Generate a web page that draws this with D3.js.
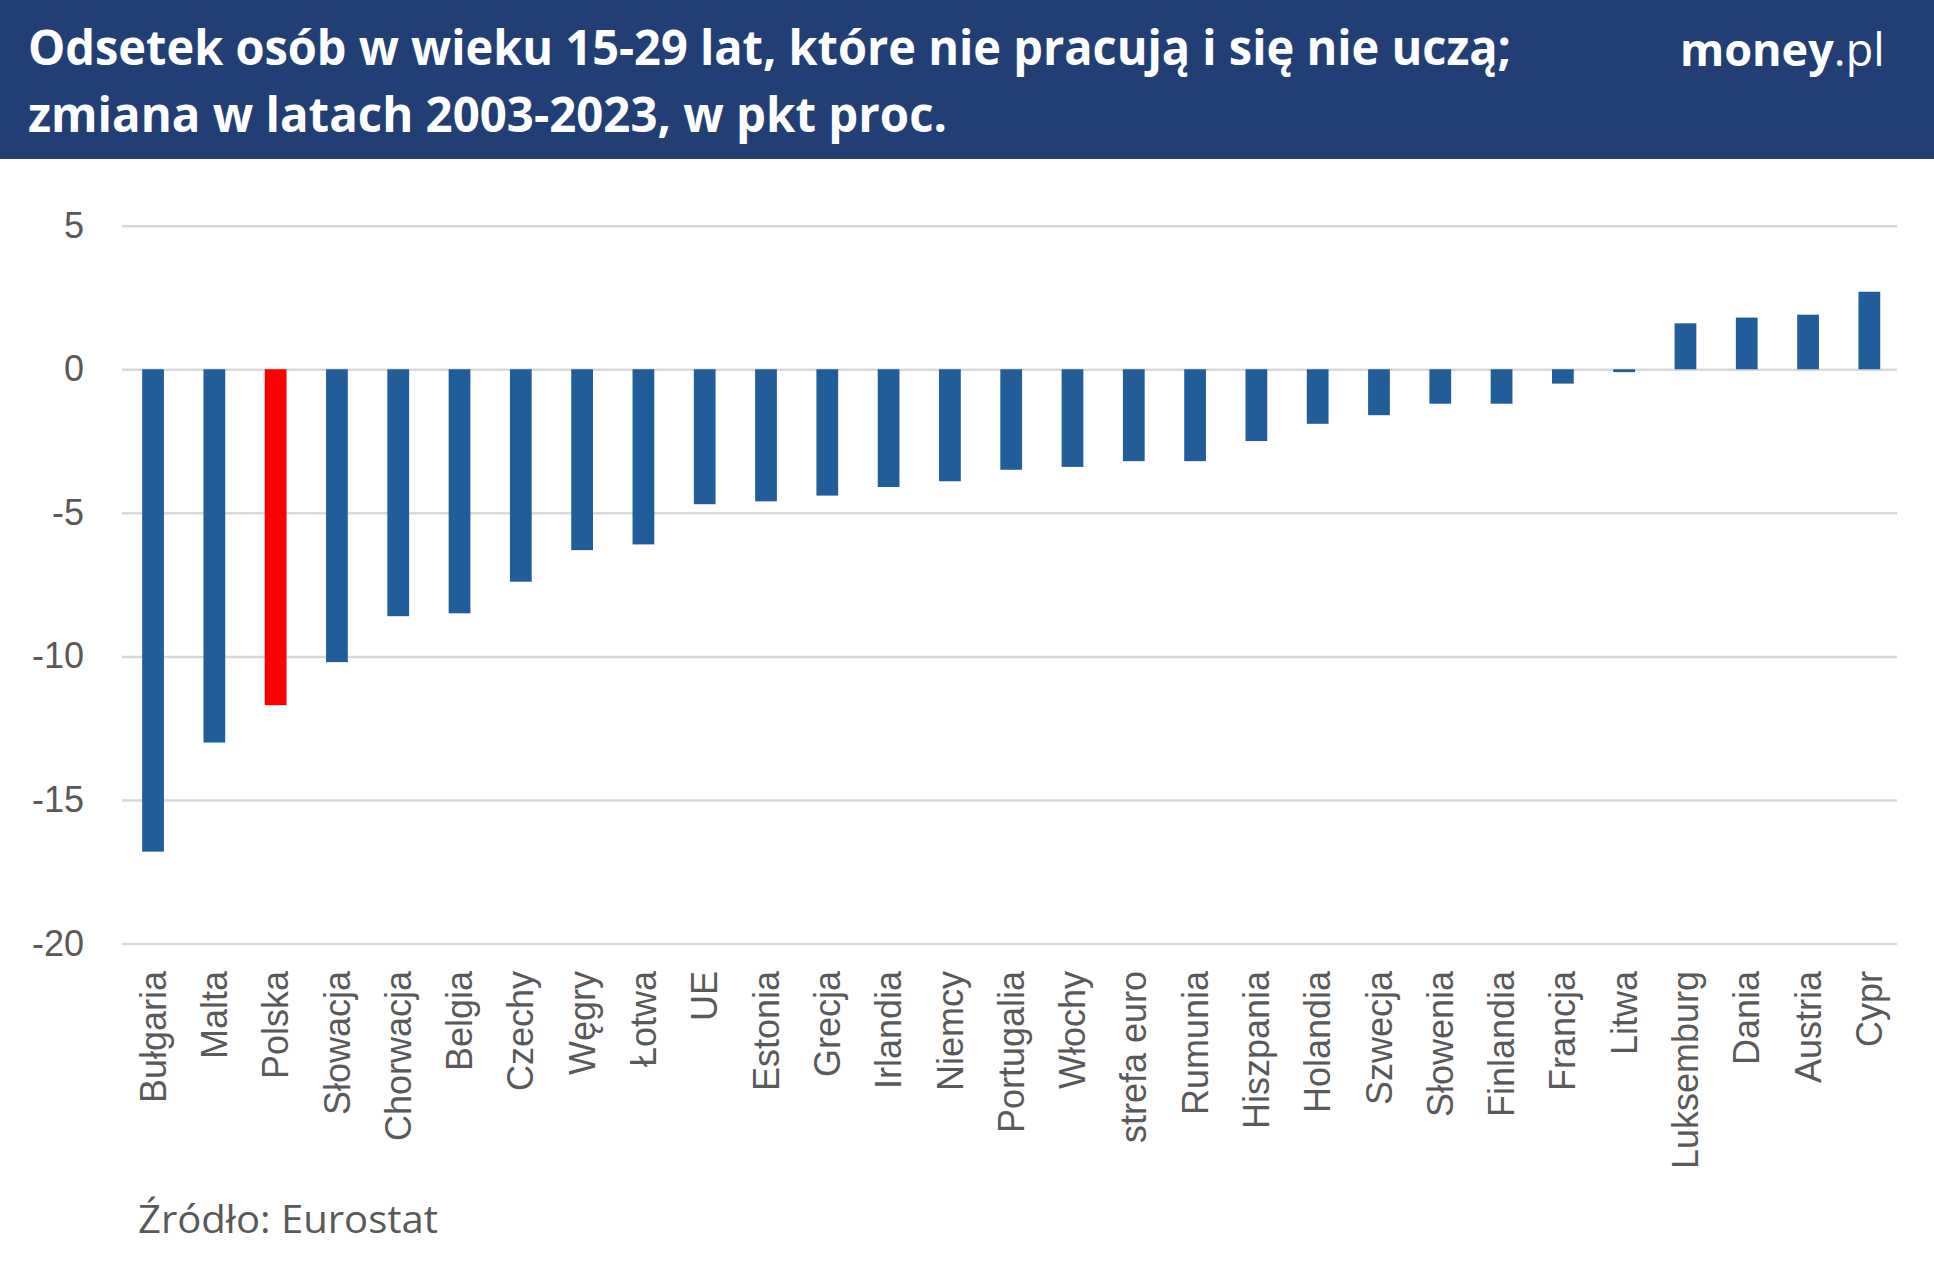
<!DOCTYPE html>
<html>
<head>
<meta charset="utf-8">
<script src="https://cdn.jsdelivr.net/npm/d3@7"></script>
<style>
  body { margin: 0; background: #fff; }
  svg { display: block; }
</style>
</head>
<body>
<svg id="chart" width="1934" height="1270"></svg>
<script>
const countries = ['Bułgaria', 'Malta', 'Polska', 'Słowacja', 'Chorwacja', 'Belgia', 'Czechy', 'Węgry', 'Łotwa', 'UE',
  'Estonia', 'Grecja', 'Irlandia', 'Niemcy', 'Portugalia', 'Włochy', 'strefa euro', 'Rumunia', 'Hiszpania', 'Holandia',
  'Szwecja', 'Słowenia', 'Finlandia', 'Francja', 'Litwa', 'Luksemburg', 'Dania', 'Austria', 'Cypr'];
const change = [-16.8, -13.0, -11.7, -10.2, -8.6, -8.5, -7.4, -6.3, -6.1, -4.7,
  -4.6, -4.4, -4.1, -3.9, -3.5, -3.4, -3.2, -3.2, -2.5, -1.9,
  -1.6, -1.2, -1.2, -0.5, -0.1, 1.6, 1.8, 1.9, 2.7];
const highlight = ['Polska'];
const yTicks = [5, 0, -5, -10, -15, -20];

const titleLines = ['Odsetek osób w wieku 15-29 lat, które nie pracują i się nie uczą;',
  'zmiana w latach 2003-2023, w pkt proc.'];
const source = 'Źródło: Eurostat';

const data = countries.map((c, i) => ({ key: c, value: change[i] }));

const svg = d3.select('#chart');

// header band
svg.append('rect')
  .attr('x', 0).attr('y', 0)
  .attr('width', 1934).attr('height', 159)
  .attr('fill', '#213f74');

svg.append('text')
  .attr('x', 28).attr('y', 65)
  .attr('font-family', 'Open Sans')
  .attr('font-weight', 700)
  .attr('font-size', '48px')
  .attr('fill', '#fff')
  .attr('textLength', 1483)
  .attr('lengthAdjust', 'spacingAndGlyphs')
  .text(titleLines[0]);

svg.append('text')
  .attr('x', 28).attr('y', 132)
  .attr('font-family', 'Open Sans')
  .attr('font-weight', 700)
  .attr('font-size', '48px')
  .attr('fill', '#fff')
  .attr('textLength', 919)
  .attr('lengthAdjust', 'spacingAndGlyphs')
  .text(titleLines[1]);

// logo, two pieces
const logoMain = svg.append('text')
  .attr('x', 1680).attr('y', 66)
  .attr('font-family', 'Open Sans')
  .attr('font-weight', 700)
  .attr('font-size', '45px')
  .attr('fill', '#fff')
  .text('money');
const mw = logoMain.node().getComputedTextLength();
svg.append('text')
  .attr('x', 1680 + mw).attr('y', 66)
  .attr('font-family', 'Open Sans')
  .attr('font-weight', 400)
  .attr('font-size', '45px')
  .attr('fill', '#fff')
  .text('.pl');

// scales
const x = d3.scaleBand()
  .domain(countries)
  .range([122.4, 1900])
  .paddingInner(0.645)
  .paddingOuter(0.3225);

const y = d3.scaleLinear().domain([-20, 5]).range([943.5, 225.7]);

// y gridlines + labels
const g = svg.append('g');
g.append('g')
  .attr('transform', 'translate(122,0)')
  .call(d3.axisLeft(y).tickValues(yTicks).tickSize(-1775).tickPadding(38).tickFormat((d) => String(d)))
  .call((a) => a.select('.domain').remove())
  .call((a) => a.selectAll('line').attr('stroke', '#d9d9d9').attr('stroke-width', 2.5))
  .call((a) => a.selectAll('text')
    .attr('font-family', 'Liberation Sans, Arial')
    .attr('font-size', '36px')
    .attr('fill', '#595959'));

// bars
g.selectAll('.bar')
  .data(data)
  .enter()
  .append('rect')
  .attr('class', 'bar')
  .attr('x', (d) => x(d.key))
  .attr('width', x.bandwidth())
  .attr('y', (d) => y(Math.max(0, d.value)))
  .attr('height', (d) => Math.abs(y(d.value) - y(0)))
  .attr('fill', (d) => (highlight.includes(d.key) ? '#ff0000' : '#215e99'));

// category labels
g.selectAll('.cat')
  .data(countries)
  .enter()
  .append('text')
  .attr('class', 'cat')
  .attr('transform', (d) => 'translate(' + (x(d) + x.bandwidth() / 2) + ',971) rotate(-90)')
  .attr('dy', '0.35em')
  .attr('text-anchor', 'end')
  .attr('font-family', 'Liberation Sans, Arial')
  .attr('font-size', '36px')
  .attr('fill', '#595959')
  .text((d) => d);

// source
svg.append('text')
  .attr('x', 138).attr('y', 1233)
  .attr('font-family', 'Open Sans')
  .attr('font-size', '38px')
  .attr('fill', '#595959')
  .attr('textLength', 300)
  .attr('lengthAdjust', 'spacingAndGlyphs')
  .text(source);
</script>
</body>
</html>
